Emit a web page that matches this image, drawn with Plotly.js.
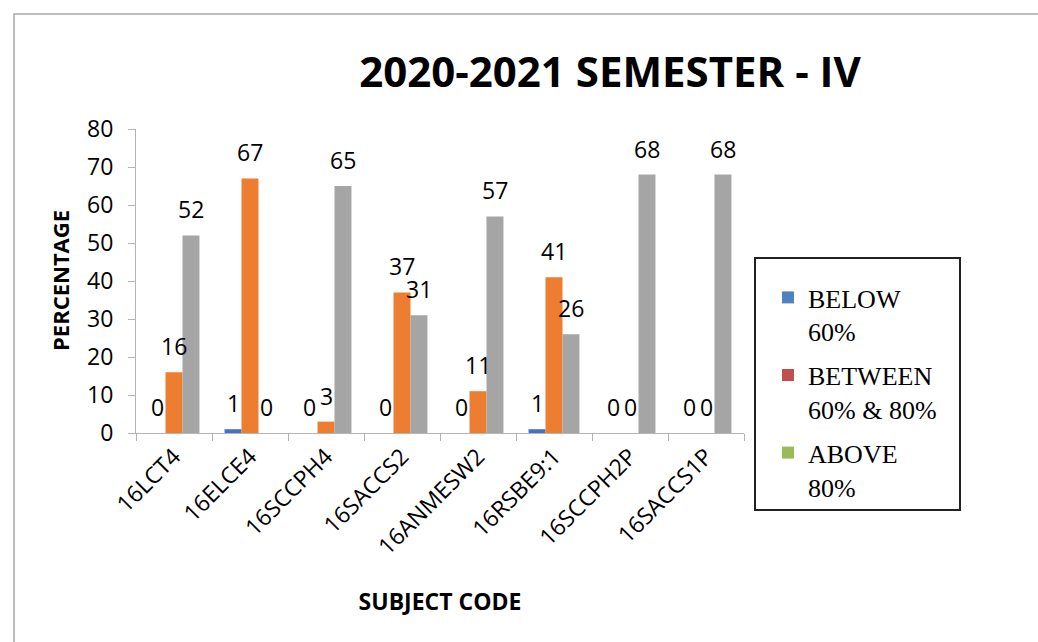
<!DOCTYPE html>
<html>
<head>
<meta charset="utf-8">
<script src="https://cdn.plot.ly/plotly-3.0.1.min.js"></script>
<style>html,body{margin:0;padding:0;background:#fff;}#chart{width:1038px;height:642px;}</style>
</head>
<body>
<div id="chart"></div>
<script>
// ---- data ----
var categories = ['16LCT4','16ELCE4','16SCCPH4','16SACCS2','16ANMESW2','16RSBE9:1','16SCCPH2P','16SACCS1P'];
var below60 = [0, 1, 0, 0, 0, 1, 0, 0];
var between60and80 = [16, 67, 3, 37, 11, 41, 0, 0];
var above80 = [52, 0, 65, 31, 57, 26, 68, 68];
var seriesNames = ['BELOW<br>60%', 'BETWEEN<br>60% &amp; 80%', 'ABOVE<br>80%'];
var barColors = ['#4472c4', '#ed7d31', '#a5a5a5'];
var legendColors = ['#4f81bd', '#c0504d', '#9bbb59'];
var yTicks = [0, 10, 20, 30, 40, 50, 60, 70, 80];

var series = [below60, between60and80, above80];
var bargap = 0.33;
var barW = (1 - bargap) / 3;
var labelFont = 'Open Sans, Lato, sans-serif';

var traces = [];
series.forEach(function (vals, k) {
  traces.push({
    type: 'bar', x: categories, y: vals, name: seriesNames[k],
    marker: {color: barColors[k], line: {width: 0}},
    showlegend: false, hoverinfo: 'x+y'
  });
});
// legend entries (Excel legend uses different swatch colours)
series.forEach(function (vals, k) {
  traces.push({
    type: 'scatter', mode: 'markers', x: [null], y: [null], name: seriesNames[k],
    legendgroup: 'g' + k,
    marker: {symbol: 'square', size: 12, color: legendColors[k]},
    showlegend: true, hoverinfo: 'skip'
  });
});

var annotations = [];
series.forEach(function (vals, k) {
  vals.forEach(function (v, i) {
    annotations.push({
      x: i + (k - 1) * barW, y: v, xref: 'x', yref: 'y',
      text: String(v), showarrow: false, yshift: 26, yanchor: 'middle',
      font: {family: labelFont, size: 23, color: '#000'}
    });
  });
});
// y axis title
annotations.push({
  text: '<b>PERCENTAGE</b>', textangle: -90, showarrow: false,
  xref: 'paper', yref: 'paper', x: (60 - 136) / 608, y: 0.5,
  xanchor: 'center', yanchor: 'middle',
  font: {family: labelFont, size: 22, color: '#000'}
});

var layout = {
  width: 1038, height: 642,
  margin: {l: 136, r: 294, t: 129, b: 209, pad: 0},
  paper_bgcolor: '#fff', plot_bgcolor: '#fff',
  title: {
    text: '<b>2020-2021 SEMESTER - IV</b>',
    font: {family: labelFont, size: 42, color: '#000'},
    x: 610 / 1038, xref: 'container', xanchor: 'center',
    y: 1 - 72 / 642, yref: 'container', yanchor: 'middle'
  },
  barmode: 'group', bargap: bargap, bargroupgap: 0,
  xaxis: {
    type: 'category', tickangle: -45, ticks: 'outside', tickson: 'boundaries',
    ticklen: 7, tickcolor: '#b4b4b4', showline: true, linecolor: '#b4b4b4', linewidth: 1,
    showgrid: false, zeroline: false, automargin: false,
    tickfont: {family: labelFont, size: 23, color: '#000'},
    title: {text: '<b>SUBJECT CODE</b>', standoff: 33,
      font: {family: labelFont, size: 23, color: '#000'}}
  },
  yaxis: {
    range: [0, 80], tickvals: yTicks, ticks: 'outside', ticklen: 7, tickcolor: '#b4b4b4',
    showline: true, linecolor: '#b4b4b4', linewidth: 1, showgrid: false, zeroline: false,
    automargin: false, ticklabelstandoff: 10,
    tickfont: {family: labelFont, size: 23, color: '#000'}
  },
  showlegend: true,
  legend: {
    x: (768 - 136) / 608, xanchor: 'left', xref: 'paper',
    y: (433 - 274) / 304, yanchor: 'top', yref: 'paper',
    bgcolor: 'rgba(0,0,0,0)', borderwidth: 0, valign: 'top',
    tracegroupgap: 7,
    font: {family: 'Liberation Serif, Times New Roman, serif', size: 26, color: '#000'}
  },
  annotations: annotations,
  shapes: [
    {type: 'rect', xref: 'paper', yref: 'paper',
      x0: (14 - 136) / 608, x1: (1060 - 136) / 608,
      y0: (433 - 14) / 304, y1: (433 - 660) / 304,
      line: {color: '#a6a6a6', width: 1.5}, fillcolor: 'rgba(0,0,0,0)', layer: 'below'},
    {type: 'rect', xref: 'paper', yref: 'paper',
      x0: (755 - 136) / 608, x1: (960 - 136) / 608,
      y0: (433 - 258) / 304, y1: (433 - 510) / 304,
      line: {color: '#222', width: 2}, fillcolor: 'rgba(0,0,0,0)'}
  ]
};

Plotly.newPlot('chart', traces, layout, {displayModeBar: false, staticPlot: true});
</script>
</body>
</html>
